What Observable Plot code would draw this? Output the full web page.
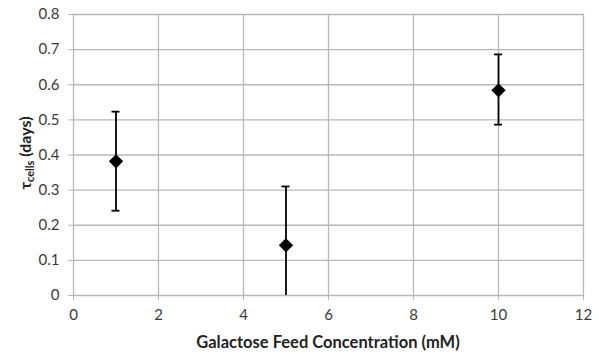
<!DOCTYPE html>
<html>
<head>
<meta charset="utf-8">
<script src="https://cdn.jsdelivr.net/npm/d3@7"></script>
<script src="https://cdn.jsdelivr.net/npm/@observablehq/plot@0.6"></script>
<style>
  html, body { margin: 0; padding: 0; background: #fff; }
  #chart svg { display: block; }
</style>
</head>
<body>
<div id="chart"></div>
<script>
// Galactose feed concentration (mM) and cell residence time (days)
const concentration = [1, 5, 10];
const tauMean = [0.382, 0.143, 0.584];
const tauLow = [0.240, 0.0, 0.485];
const tauHigh = [0.522, 0.309, 0.685];

const xTicks = [0, 2, 4, 6, 8, 10, 12];
const yTicks = [0, 0.1, 0.2, 0.3, 0.4, 0.5, 0.6, 0.7, 0.8];

const rows = concentration.map((c, i) => ({
  c, mean: tauMean[i], low: tauLow[i], high: tauHigh[i]
}));

const fontFamily = "Lato, 'Open Sans', sans-serif";
const gridColor = "#b8b8b8";

const chart = Plot.plot({
  width: 599,
  height: 354,
  marginLeft: 73,
  marginRight: 16,
  marginTop: 14,
  marginBottom: 59,
  style: { fontFamily, fontSize: "15px", color: "#3a3a3a", background: "#fff" },
  x: { type: "linear", domain: [0, 12], ticks: xTicks, label: null },
  y: { type: "linear", domain: [0, 0.8], ticks: yTicks, label: null },
  marks: [
    Plot.ruleY(yTicks, { stroke: gridColor, strokeWidth: 1.3 }),
    Plot.ruleX(xTicks, { stroke: gridColor, strokeWidth: 1.3 }),
    Plot.axisX({ ticks: xTicks, tickSize: 5, tickPadding: 9, stroke: gridColor, strokeOpacity: 1, tickFormat: d => String(d), fontSize: 15 }),
    Plot.axisY({ ticks: yTicks, tickSize: 5, tickPadding: 9, stroke: gridColor, strokeOpacity: 1, tickFormat: d => d === 0 ? "0" : d3.format(".1f")(d), fontSize: 15 }),
    // error bars
    Plot.ruleX(rows, { x: "c", y1: "low", y2: "high", stroke: "#000", strokeWidth: 1.8 }),
    Plot.dot(rows, { x: "c", y: "mean", symbol: "diamond2", r: 5.5, fill: "#000", stroke: "#000" })
  ]
});

document.getElementById("chart").appendChild(chart);

// Error-bar caps, drawn through the plot's own scales
const svg = d3.select(chart);
const xs = chart.scale("x"), ys = chart.scale("y");
const capHalf = 4;
const caps = [];
rows.forEach(r => { caps.push([r.c, r.high]); if (r.low > 0) caps.push([r.c, r.low]); });
svg.append("g")
  .selectAll("line").data(caps).join("line")
  .attr("x1", d => xs.apply(d[0]) - capHalf)
  .attr("x2", d => xs.apply(d[0]) + capHalf)
  .attr("y1", d => ys.apply(d[1]))
  .attr("y2", d => ys.apply(d[1]))
  .attr("stroke", "#000").attr("stroke-width", 1.8);

// Axis titles
svg.append("text")
  .attr("x", (73 + 583) / 2).attr("y", 348)
  .attr("text-anchor", "middle")
  .attr("font-family", fontFamily).attr("font-size", 16.5).attr("font-weight", "bold")
  .attr("fill", "#222")
  .text("Galactose Feed Concentration (mM)");

const yl = svg.append("text")
  .attr("transform", "translate(31,153) rotate(-90)")
  .attr("text-anchor", "middle")
  .attr("font-family", fontFamily).attr("font-size", 16).attr("font-weight", "bold")
  .attr("fill", "#222");
yl.append("tspan").text("τ");
yl.append("tspan").attr("font-size", 11).attr("dy", 3).text("cells");
yl.append("tspan").attr("dy", -3).text(" (days)");
</script>
</body>
</html>
